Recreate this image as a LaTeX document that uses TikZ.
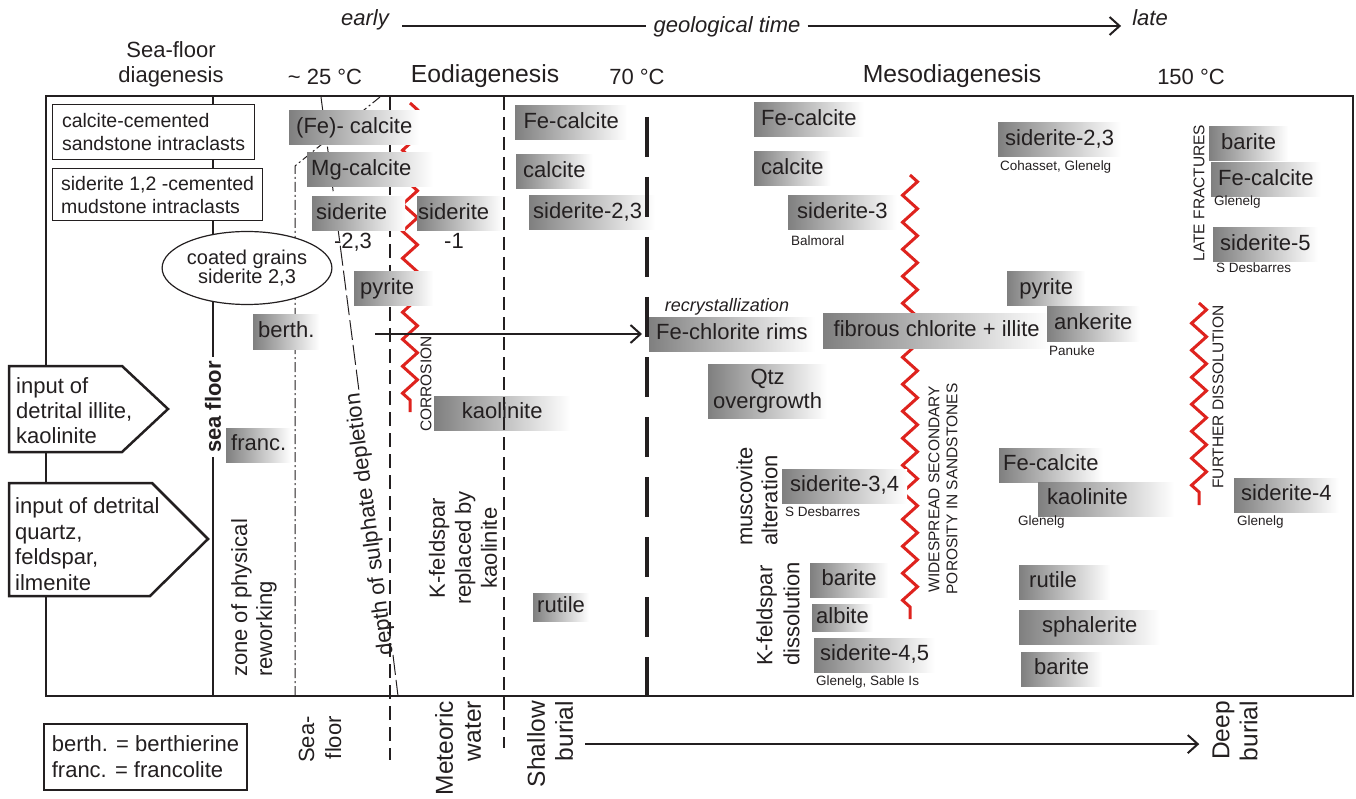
\documentclass[tikz,border=0pt]{standalone}
\usepackage{fontspec}
\setmainfont{Liberation Sans}
\usepackage{tikz}
\usetikzlibrary{arrows.meta, positioning, shapes.geometric, decorations.pathmorphing}
\definecolor{inkcolor}{RGB}{35,31,32}
\definecolor{dissolred}{RGB}{222,35,30}

\begin{document}
\begin{tikzpicture}[
    x=1pt, y=-1pt,
    every node/.style={text=inkcolor},
    mineral/.style={left color=black!50, right color=white, anchor=west, inner xsep=7pt, inner ysep=6.5pt, text height=16pt, text depth=5pt, font=\fontsize{22}{25}\selectfont},
    mineralpair/.style={left color=black!50, right color=white, anchor=west, inner xsep=5pt, inner ysep=3pt, align=center, minimum height=54pt, font=\fontsize{22}{24}\selectfont},
    locality/.style={anchor=west, inner sep=0pt, font=\fontsize{13.5}{16}\selectfont},
    bigtext/.style={inner sep=0pt, font=\fontsize{22}{25}\selectfont},
    stagetext/.style={inner sep=0pt, font=\fontsize{24.7}{28}\selectfont},
    burialtext/.style={inner sep=0pt, rotate=90, align=right, anchor=east, font=\fontsize{24.5}{28}\selectfont},
    captext/.style={inner sep=0pt, rotate=90, font=\fontsize{15.5}{18}\selectfont},
    clastbox/.style={draw=inkcolor, line width=1.2pt, fill=white, anchor=north west, inner xsep=5pt, align=left, font=\fontsize{19.5}{23}\selectfont},
    inputshape/.style={draw=inkcolor, line width=2.5pt, fill=white},
    zigzagline/.style={dissolred, line width=3pt, decoration={zigzag, segment length=27pt, amplitude=7.5pt}, decorate},
    arrow/.style={-{Straight Barb[length=10pt, width=18pt]}, line width=2pt, inkcolor},
    frameline/.style={line width=2.5pt, inkcolor}
]
\useasboundingbox (0,0) rectangle (1356,799);

\node[bigtext, font=\fontsize{22}{25}\selectfont\itshape, anchor=base] (early) at (365,26) {early};
\node[bigtext, font=\fontsize{22}{25}\selectfont\itshape, anchor=base] (geotime) at (727,33) {geological time};
\node[bigtext, font=\fontsize{22}{25}\selectfont\itshape, anchor=base] (late) at (1150,26) {late};
\draw[line width=2pt, inkcolor] ([xshift=13pt]early.base east) -- ([xshift=-7pt]early.base east -| geotime.west);
\draw[arrow] ([xshift=7pt]geotime.east |- late.base) -- ([xshift=-11pt]late.base west);

\node[bigtext, align=center] (sfdiag) at (171,64) {Sea-floor\\diagenesis};
\node[bigtext] (t25) at (325,77) {\textasciitilde{} 25 °C};
\node[stagetext] (eodiag) at (485,76) {Eodiagenesis};
\node[bigtext] (t70) at (637,77) {70 °C};
\node[stagetext] (mesodiag) at (952,76) {Mesodiagenesis};
\node[bigtext] (t150) at (1191,77) {150 °C};

\draw[frameline] (46,96) rectangle (1353,696);
\draw[frameline] (213,96) -- (213,696);

\draw[zigzagline] (410,103) -- (410,412);
\draw[zigzagline] (910,175) -- (910,619);
\draw[zigzagline] (1199,303) -- (1199,505);

\draw[line width=1pt, inkcolor, dash pattern=on 10pt off 3pt on 2pt off 3pt] (295,696) -- (295,166) -- (380,97);
\node[bigtext, rotate=97.34, anchor=base west] (sulphate) at (393,655) {depth of sulphate depletion};
\draw[line width=1pt, inkcolor, dash pattern=on 20pt off 5pt] (321,97) -- (sulphate.base east);
\draw[line width=1pt, inkcolor, dash pattern=on 20pt off 5pt] (sulphate.base west) -- (398,696);
\draw[line width=2pt, inkcolor, dash pattern=on 14pt off 7pt] (390,97) -- (390,760);

\node[clastbox, minimum width=202pt, minimum height=55pt] (sandclast) at (52,104) {calcite-cemented\\sandstone intraclasts};
\node[clastbox, minimum width=210pt, minimum height=52pt] (mudclast) at (52,168) {siderite 1,2 -cemented\\mudstone intraclasts};
\node[draw=inkcolor, line width=1.2pt, fill=white, ellipse, minimum width=142pt, minimum height=73pt, inner sep=0pt, align=center, font=\fontsize{20}{17}\selectfont] (coated) at (247,268) {coated grains\\siderite 2,3};
\node[bigtext, font=\fontsize{22}{25}\selectfont\bfseries, rotate=90, fill=white, inner xsep=4pt, inner ysep=2pt] (seafloor) at (213,407) {sea floor};

\draw[inputshape] (9,366) -- (122,366) -- (168,409) -- (122,452) -- (9,452) -- cycle;
\node[bigtext, align=left, anchor=west] (illite) at (16,411) {input of\\detrital illite,\\kaolinite};
\draw[inputshape] (9,483) -- (152,483) -- (208,539) -- (150,596) -- (9,596) -- cycle;
\node[bigtext, align=left, anchor=west, font=\fontsize{22}{25.7}\selectfont] (quartz) at (15,544) {input of detrital\\quartz,\\feldspar,\\ilmenite};

\node[draw=inkcolor, line width=1.2pt, minimum width=203pt, minimum height=66pt, align=left, font=\fontsize{22}{26}\selectfont] (legend) at (145.5,757) {berth. = berthierine\\franc. = francolite};

\node[mineral, minimum width=128pt] (fecalcA) at (289,128) {(Fe)- calcite};
\node[mineral, inner xsep=4pt, text width=118pt, align=left] (mgcalc) at (307,170) {Mg-calcite};
\node[mineral, inner xsep=4pt, text width=85pt, align=left] (sidA) at (312,214) {siderite};
\node[bigtext] (sidAnum) at (353,242) {-2,3};
\node[mineral, inner xsep=1pt, text width=83pt, align=left] (sidB) at (417,214) {siderite};
\node[bigtext] (sidBnum) at (454,241) {-1};
\node[mineral, inner xsep=6pt, text width=67pt, align=left] (pyriteA) at (354,289) {pyrite};
\node[mineral, inner xsep=5pt] (berth) at (253,332) {berth.};
\node[mineral, inner xsep=5pt] (franc) at (226,445) {franc.};
\node[mineral, minimum width=136pt] (kaolA) at (434,413) {kaolinite};

\node[mineral, minimum width=112pt] (fecalcB) at (515,123) {Fe-calcite};
\node[mineral] (calcB) at (516,172) {calcite};
\node[mineral, inner xsep=4pt, text width=118pt, align=left] (sidC) at (529,213) {siderite-2,3};
\node[mineral, inner xsep=4pt, inner ysep=3.5pt] (rutileA) at (533,607) {rutile};

\node[mineral, minimum width=103pt] (fecalcC) at (754,120) {Fe-calcite};
\node[mineral] (calcC) at (754,169) {calcite};
\node[mineral, inner xsep=9pt] (sidD) at (788,213) {siderite-3};
\node[locality] (balmoral) at (791,241) {Balmoral};
\node[inner sep=0pt, font=\fontsize{18}{20}\selectfont\itshape] (recryst) at (727,307) {recrystallization};
\node[mineral, minimum width=164pt] (rims) at (649,334) {Fe-chlorite rims};
\node[mineral, minimum width=227pt] (fibrous) at (823,331) {fibrous chlorite + illite};
\node[mineralpair] (qtz) at (708,391) {Qtz\\overgrowth};
\node[mineral, inner xsep=8pt] (sidE) at (782,486) {siderite-3,4};
\node[locality] (desbarresA) at (785,512) {S Desbarres};
\node[mineral, minimum width=78pt] (bariteA) at (810,580) {barite};
\node[mineral, inner xsep=4pt, inner ysep=3pt] (albite) at (812,618) {albite};
\node[mineral, inner xsep=6pt] (sidF) at (814,655) {siderite-4,5};
\node[locality] (sable) at (816,682) {Glenelg, Sable Is};

\node[mineral] (sidG) at (998,140) {siderite-2,3};
\node[locality] (cohasset) at (1000,167) {Cohasset, Glenelg};
\node[mineral, minimum width=78pt] (pyriteB) at (1007,289) {pyrite};
\node[mineral] (ankerite) at (1047,324) {ankerite};
\node[locality] (panuke) at (1049,351) {Panuke};
\node[mineral, inner xsep=4pt] (fecalcD) at (999,465) {Fe-calcite};
\node[mineral, inner xsep=9pt, text width=118pt, align=left] (kaolB) at (1038,499) {kaolinite};
\node[locality] (glenelgA) at (1018,522) {Glenelg};
\node[mineral, inner xsep=10pt, text width=71pt, align=left] (rutileB) at (1019,582) {rutile};
\node[mineral, minimum width=141pt] (sphalerite) at (1019,627) {sphalerite};
\node[mineral, minimum width=81pt] (bariteB) at (1021,669) {barite};

\node[mineral, minimum width=79pt] (bariteC) at (1209,144) {barite};
\node[mineral, minimum width=104pt] (fecalcE) at (1211,180) {Fe-calcite};
\node[locality] (glenelgB) at (1214,202) {Glenelg};
\node[mineral, minimum width=99pt] (sidH) at (1213,245) {siderite-5};
\node[locality] (desbarresB) at (1216,268) {S Desbarres};
\node[mineral, minimum width=101pt] (sidI) at (1234,495) {siderite-4};
\node[locality] (glenelgC) at (1237,522) {Glenelg};

\draw[line width=2pt, inkcolor, dash pattern=on 13pt off 7pt] (504,97) -- (504,748);
\draw[line width=4pt, inkcolor, dash pattern=on 40pt off 20pt] (647,117) -- (647,696);

\node[bigtext, rotate=90, align=left, anchor=west] (reworking) at (254,677) {zone of physical\\reworking};
\node[bigtext, rotate=90, align=center, font=\fontsize{22}{26}\selectfont] (kspar) at (463,548) {K-feldspar\\replaced by\\kaolinite};
\node[bigtext, rotate=90, align=left, anchor=west] (muscovite) at (757,546) {muscovite\\alteration};
\node[bigtext, rotate=90, align=left, anchor=west, font=\fontsize{22}{27}\selectfont] (kdissol) at (778,666) {K-feldspar\\dissolution};

\node[captext] (corrosion) at (426,384) {CORROSION};
\node[captext, align=center] (porosity) at (943,489) {WIDESPREAD SECONDARY\\POROSITY IN SANDSTONES};
\node[captext] (further) at (1218,397) {FURTHER DISSOLUTION};
\node[captext] (latefrac) at (1199,193) {LATE FRACTURES};

\node[bigtext, rotate=90, align=right, anchor=east, font=\fontsize{22}{27}\selectfont] (seafloorzone) at (320,716) {Sea-\\floor};
\node[burialtext] (meteoric) at (458,701) {Meteoric\\water};
\node[burialtext] (shallow) at (550,701) {Shallow\\burial};
\node[burialtext] (deep) at (1235,701) {Deep\\burial};

\coordinate (chloritepath) at (375,334);
\draw[arrow, shorten >=7pt] (chloritepath) -- (rims.west);
\draw[arrow, shorten <=12pt, shorten >=13pt] (shallow.south) -- (shallow.south -| deep.north);
\end{tikzpicture}
\end{document}
